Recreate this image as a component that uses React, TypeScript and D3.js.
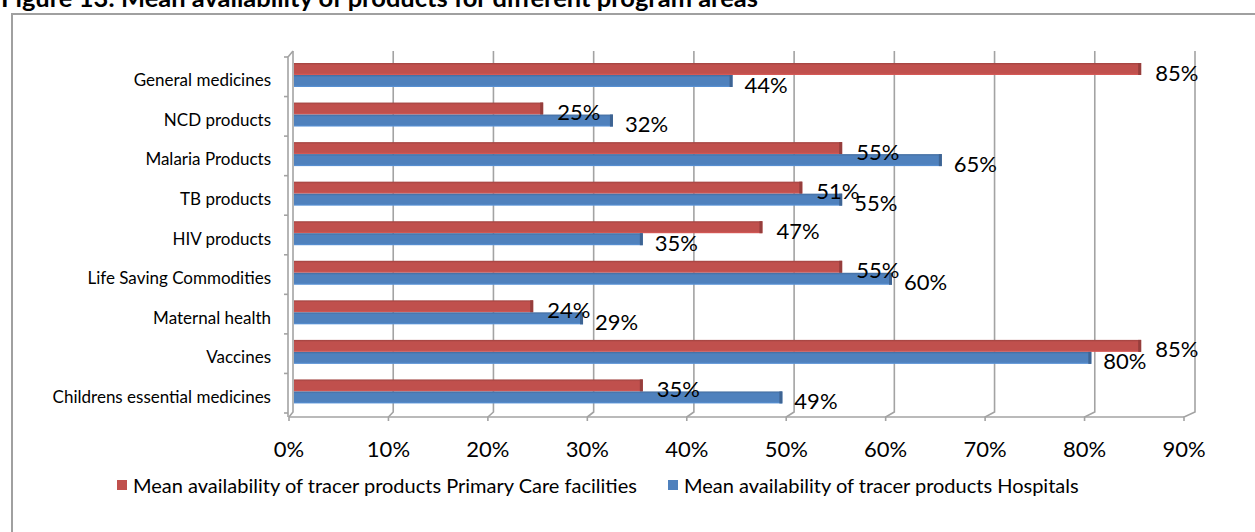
import React, { useEffect, useRef } from "react";
import * as d3 from "d3";

const categories = [
  "General medicines",
  "NCD products",
  "Malaria Products",
  "TB products",
  "HIV products",
  "Life Saving Commodities",
  "Maternal health",
  "Vaccines",
  "Childrens essential medicines",
];
const primaryCare = [85, 25, 55, 51, 47, 55, 24, 85, 35];
const hospitals = [44, 32, 65, 55, 35, 60, 29, 80, 49];
const ticks = [0, 10, 20, 30, 40, 50, 60, 70, 80, 90];
const seriesNames = [
  "Mean availability of tracer products Primary Care facilities",
  "Mean availability of tracer products Hospitals",
];
const title = "Figure 13: Mean availability of products for different program areas";

const width = 1255;
const height = 532;
const font = "Lato, 'Open Sans', sans-serif";
const red = "#C0504D";
const blue = "#4F81BD";
const gridColor = "#a3a3a3";

const App = () => {
  const ref = useRef<SVGSVGElement>(null);

  useEffect(() => {
    const svg = d3.select(ref.current);
    svg.selectAll("*").remove();

    // front floor edge, back wall and bar plane scales
    const xFront = d3.scaleLinear().domain([0, 90]).range([289, 1184]);
    const xBack = d3.scaleLinear().domain([0, 90]).range([293, 1195]);
    const xBar = d3.scaleLinear().domain([0, 90]).range([294, 1191]);
    const y = d3.scaleBand().domain(categories).range([57, 413]).paddingInner(0);

    const wallTop = 51;
    const wallBottom = 412;
    const floorFront = 417;

    const defs = svg.append("defs");
    const grad = (id: string, c: string) => {
      const g = defs.append("linearGradient").attr("id", id)
        .attr("x1", 0).attr("y1", 0).attr("x2", 0).attr("y2", 1);
      g.append("stop").attr("offset", "0%").attr("stop-color", d3.color(c)!.darker(0.5).toString());
      g.append("stop").attr("offset", "18%").attr("stop-color", c);
      g.append("stop").attr("offset", "85%").attr("stop-color", c);
      g.append("stop").attr("offset", "100%").attr("stop-color", d3.color(c)!.brighter(0.4).toString());
    };
    grad("gRed", red);
    grad("gBlue", blue);

    // outer frame
    svg.append("rect")
      .attr("x", 12).attr("y", 14)
      .attr("width", width + 20).attr("height", height + 20)
      .attr("fill", "white").attr("stroke", "#a0a0a0").attr("stroke-width", 2);

    // title (cut by the top edge, as in the source document)
    svg.append("text")
      .attr("x", 1).attr("y", 7)
      .attr("font-family", font).attr("font-weight", "bold").attr("font-size", 25)
      .attr("textLength", 757).attr("lengthAdjust", "spacingAndGlyphs")
      .text(title);

    const grid = svg.append("g").attr("stroke", gridColor).attr("stroke-width", 1.6).attr("fill", "none");

    // back wall gridlines with floor diagonals and ticks
    ticks.forEach(t => {
      grid.append("path")
        .attr("d", `M${xBack(t)},${wallTop}V${wallBottom}L${xFront(t)},${floorFront}V${floorFront + 4}`);
    });
    // floor front edge
    grid.append("line")
      .attr("x1", xFront(0)).attr("x2", xFront(90))
      .attr("y1", floorFront).attr("y2", floorFront);
    // left side wall
    grid.append("path")
      .attr("d", `M${xBack(0)},${wallTop}L${xFront(0) - 1},${y.range()[0]}V${floorFront}`);
    categories.concat([""]).forEach((c, i) => {
      const yy = i < categories.length ? y(c)! : y.range()[1];
      grid.append("line")
        .attr("x1", xFront(0) - 5).attr("x2", xFront(0) - 1)
        .attr("y1", yy).attr("y2", yy);
    });

    // bars
    const bars = svg.append("g");
    const drawBar = (v: number, top: number, fill: string, base: string) => {
      const x0 = xBar(0);
      const x1 = xBar(v);
      bars.append("rect")
        .attr("x", x0).attr("y", top)
        .attr("width", x1 - x0).attr("height", 12)
        .attr("fill", `url(#${fill})`);
      bars.append("rect")
        .attr("x", x1 - 3).attr("y", top)
        .attr("width", 3).attr("height", 12)
        .attr("fill", d3.color(base)!.darker(0.7).toString());
    };
    categories.forEach((c, i) => {
      drawBar(primaryCare[i], y(c)! + 6, "gRed", red);
      drawBar(hospitals[i], y(c)! + 18, "gBlue", blue);
    });

    // category labels
    svg.append("g")
      .selectAll("text")
      .data(categories)
      .join("text")
      .attr("x", 271)
      .attr("y", d => y(d)! + y.bandwidth() / 2 + 3)
      .attr("text-anchor", "end")
      .attr("dominant-baseline", "central")
      .attr("font-family", font).attr("font-size", 17)
      .text(d => d);

    // x tick labels
    svg.append("g")
      .selectAll("text")
      .data(ticks)
      .join("text")
      .attr("x", d => xFront(d))
      .attr("y", 448)
      .attr("text-anchor", "middle")
      .attr("dominant-baseline", "central")
      .attr("font-family", font).attr("font-size", 22)
      .text(d => d + "%");

    // data labels
    const labels = svg.append("g")
      .attr("font-family", font).attr("font-size", 22)
      .attr("dominant-baseline", "central");
    categories.forEach((c, i) => {
      labels.append("text")
        .attr("x", xBar(primaryCare[i]) + 14)
        .attr("y", y(c)! + 6 + 6 + 3)
        .text(primaryCare[i] + "%");
      labels.append("text")
        .attr("x", xBar(hospitals[i]) + 12)
        .attr("y", y(c)! + 18 + 6 + 3)
        .text(hospitals[i] + "%");
    });

    // legend
    const legend = svg.append("g").attr("font-family", font).attr("font-size", 20);
    const items = [
      { name: seriesNames[0], color: red, x: 117 },
      { name: seriesNames[1], color: blue, x: 668 },
    ];
    items.forEach(it => {
      legend.append("rect")
        .attr("x", it.x).attr("y", 480)
        .attr("width", 10).attr("height", 10)
        .attr("fill", it.color);
      legend.append("text")
        .attr("x", it.x + 16).attr("y", 485)
        .attr("dominant-baseline", "central")
        .text(it.name);
    });
  }, []);

  return (
    <svg
      ref={ref}
      width={width}
      height={height}
      style={{ position: "absolute", left: 0, top: 0, background: "white" }}
    />
  );
};

export default App;
